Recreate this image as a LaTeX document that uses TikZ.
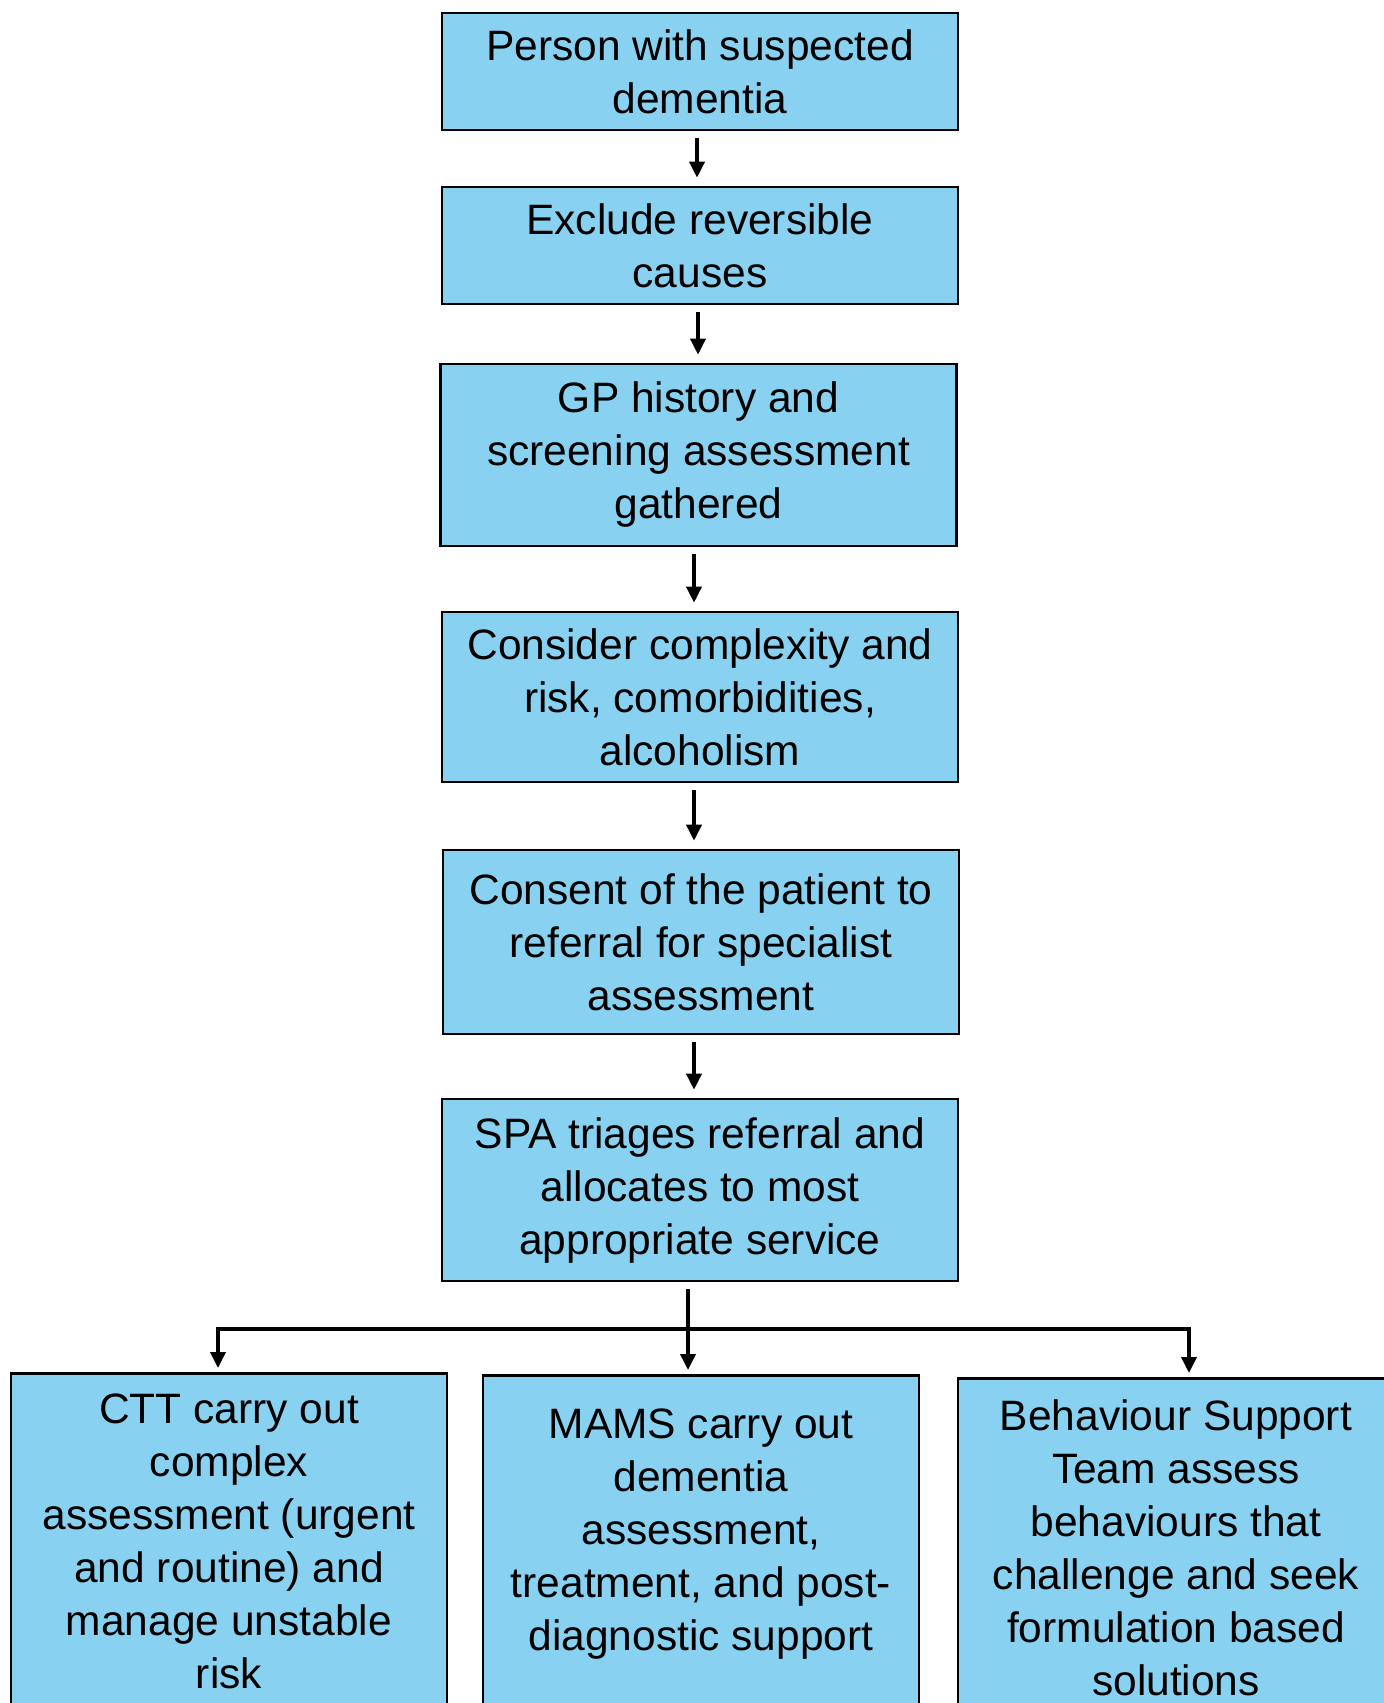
\documentclass[tikz,border=0pt]{standalone}
\usepackage{fontspec}
\setmainfont{Liberation Sans}
\usetikzlibrary{arrows.meta}
\definecolor{boxblue}{RGB}{137,209,240}
\tikzset{
  box/.style={draw, fill=boxblue, line width=1.3pt, align=center, minimum width=258pt, inner sep=2pt},
  lowbox/.style={draw, fill=boxblue, line width=1.3pt, anchor=north, inner sep=0pt},
  flow/.style={-{Triangle[width=7.5pt,length=8pt]}, line width=1.8pt},
}
\newcommand{\lowtext}[2]{\parbox[t][170pt][t]{218pt}{\centering\vspace{#1}#2}}
\begin{document}
\begin{tikzpicture}[x=0.5pt, y=-0.5pt, every node/.style={font=\fontsize{21.25}{26.5}\selectfont}]
  \useasboundingbox (0,0) rectangle (1384,1703);
  \clip (0,0) rectangle (1384,1703);
  \draw
    (700,71.5) node[box, minimum height=58.5pt] (person){Person with suspected\\dementia}
    (700,245.5) node[box, minimum height=58.5pt] (exclude){Exclude reversible\\causes}
    (698.5,455) node[box, minimum height=91pt] (gp){GP history and\\screening assessment\\gathered}
    (700,697) node[box, minimum height=85pt] (consider){Consider complexity and\\risk, comorbidities,\\alcoholism}
    (701,942) node[box, minimum height=92pt] (consent){Consent of the patient to\\referral for specialist\\assessment}
    (700,1190) node[box, minimum height=91pt] (spa){SPA triages referral and\\allocates to most\\appropriate service}
    (229,1372) node[lowbox] (ctt){\lowtext{10.3pt}{CTT carry out\\complex\\assessment (urgent\\and routine) and\\manage unstable\\risk}}
    (701,1374) node[lowbox] (mams){\lowtext{16.8pt}{MAMS carry out\\dementia\\assessment,\\treatment, and post-\\diagnostic support}}
    (1176,1377) node[lowbox] (bst){\lowtext{10.5pt}{Behaviour Support\\Team assess\\behaviours that\\challenge and seek\\formulation based\\solutions}};
  \coordinate (fork) at (688,1329);
  \begin{scope}[flow, shorten <=3.5pt, shorten >=4pt]
    \draw ([xshift=-1.5pt]person.south) to ([xshift=-1.5pt]person.south |- exclude.north);
    \draw ([xshift=-1pt]exclude.south) to ([xshift=-1pt]exclude.south |- gp.north);
    \draw ([xshift=-2.25pt]gp.south) to ([xshift=-2.25pt]gp.south |- consider.north);
    \draw ([xshift=-3pt]consider.south) to ([xshift=-3pt]consider.south |- consent.north);
    \draw ([xshift=-3.5pt]consent.south) to ([xshift=-3.5pt]consent.south |- spa.north);
  \end{scope}
  \begin{scope}[flow, shorten >=2pt]
    \draw[shorten <=3.5pt] ([xshift=-6pt]spa.south) to ([xshift=-6pt]spa.south |- mams.north);
    \draw (fork) -| ([xshift=-5.5pt]ctt.north);
    \draw (fork) -| ([xshift=6.5pt]bst.north);
  \end{scope}
\end{tikzpicture}
\end{document}
